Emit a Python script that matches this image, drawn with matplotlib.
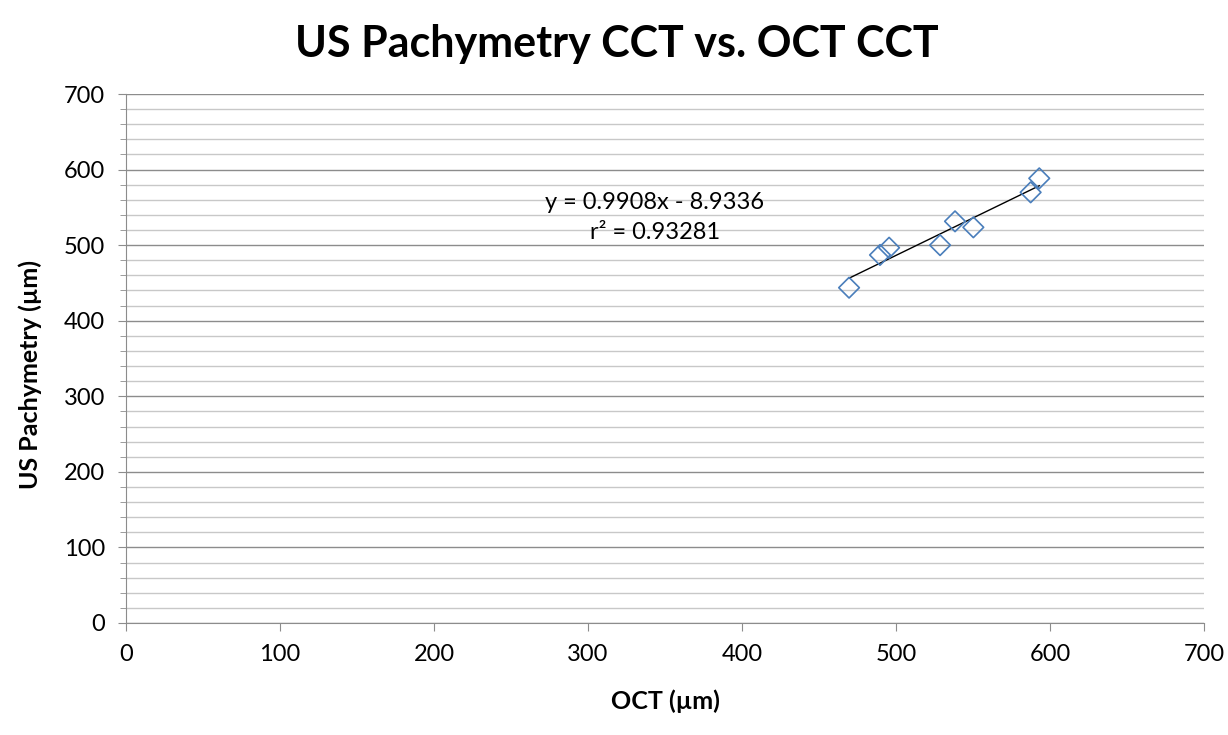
import numpy as np
import matplotlib.pyplot as plt

oct_cct = [469.5, 489.6, 495.5, 528.6, 538.3, 550.2, 587.4, 593.0]
us_cct = [443.7, 487.0, 496.6, 500.0, 531.5, 523.6, 569.9, 588.4]
slope = 0.9908
intercept = -8.9336

plt.rcParams['font.family'] = ['Lato', 'DejaVu Sans']

fig = plt.figure(figsize=(12.28, 7.35), dpi=100)
ax = fig.add_axes([0.1026, 0.1524, 0.8779, 0.7197])

ax.set_xlim(0, 700)
ax.set_ylim(0, 700)
ax.set_xticks(np.arange(0, 701, 100))
ax.set_yticks(np.arange(0, 701, 100))
ax.set_yticks(np.arange(0, 701, 20), minor=True)
ax.grid(True, which='major', axis='y', color='#8c8c8c', linewidth=1.0)
ax.grid(True, which='minor', axis='y', color='#c8c8c8', linewidth=1.0)
ax.set_axisbelow(True)

for s in ['top', 'right']:
    ax.spines[s].set_visible(False)
for s in ['left', 'bottom']:
    ax.spines[s].set_color('#8c8c8c')
ax.tick_params(axis='both', which='major', length=6, color='#8c8c8c', labelsize=17, pad=9)
ax.tick_params(axis='y', which='minor', length=4, color='#8c8c8c')

ax.scatter(oct_cct, us_cct, marker='D', s=110, facecolors='none', edgecolors='#4a7ebb', linewidths=1.2, zorder=3)
xs = np.array([min(oct_cct), max(oct_cct)])
ax.plot(xs, slope * xs + intercept, color='black', linewidth=1.0, zorder=2)

ax.text(343.5, 536.6, 'y = 0.9908x - 8.9336\nr² = 0.93281', ha='center', va='center', fontsize=17, linespacing=1.5)

ax.set_xlabel('OCT (µm)', fontsize=18, fontweight='bold', labelpad=18)
ax.set_ylabel('US Pachymetry (µm)', fontsize=18, fontweight='bold', labelpad=16)
ax.yaxis.set_label_coords(-0.078, 0.47)
fig.suptitle('US Pachymetry CCT vs. OCT CCT', fontsize=31, fontweight='bold', x=0.502, y=0.968)

fig.savefig('out.png', dpi=100)
